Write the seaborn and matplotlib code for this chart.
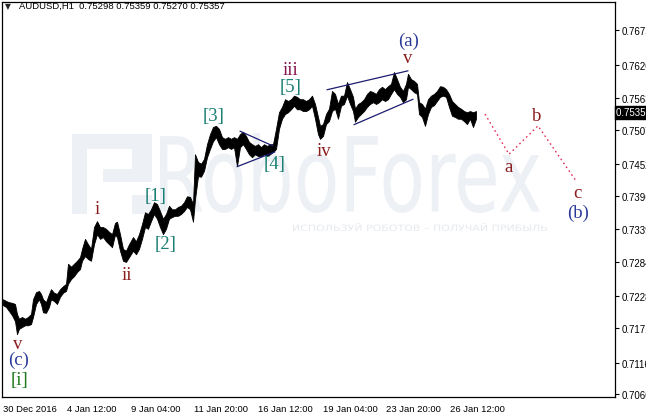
import matplotlib
matplotlib.use("Agg")
import matplotlib.pyplot as plt
import seaborn as sns
from matplotlib.textpath import TextPath
from matplotlib.patches import PathPatch, Rectangle
from matplotlib.font_manager import FontProperties
from matplotlib.transforms import Affine2D, blended_transform_factory

# AUDUSD H1, hourly bars counted from 30 Dec 2016; prices
bar_idx = [0, 3, 6, 9, 12, 14, 16, 19, 22, 25, 28, 30, 33, 36, 38, 40, 43, 46, 48, 51,
           54, 57, 60, 63, 65, 68, 71, 74, 77, 79, 82, 85, 88, 91, 94, 97, 100, 103, 106, 109,
           112, 114, 117, 120, 123, 126, 130, 133, 136, 139, 142, 145, 148, 151, 154, 157, 160, 163, 166, 169,
           172, 175, 178, 181, 184, 187, 190, 192, 195, 198, 201, 204, 207, 210, 213, 216, 219, 222, 225, 228,
           231, 234, 237, 240, 243, 246, 249, 252, 255, 258, 261, 264, 267, 270, 273, 276, 279, 282, 285, 288,
           291, 294, 297, 300, 303, 306, 309, 312, 315, 317, 320, 323, 326, 329, 332, 335, 338, 341, 344, 347,
           350, 352, 355, 358, 361, 364, 367, 370, 373, 376, 379, 382, 385, 388, 391, 394, 397, 400, 403, 405,
           408, 411, 414, 416, 419, 422, 425, 428, 431, 434, 437, 440, 443, 446, 449, 452, 455, 458, 461, 464,
           467, 470, 473]
bar_high = [0.7220, 0.7217, 0.7215, 0.7214, 0.7212, 0.7195, 0.7187, 0.7190, 0.7187, 0.7190,
            0.7195, 0.7220, 0.7232, 0.7234, 0.7229, 0.7220, 0.7215, 0.7229, 0.7237, 0.7231,
            0.7229, 0.7237, 0.7242, 0.7246, 0.7280, 0.7275, 0.7280, 0.7285, 0.7291, 0.7305,
            0.7322, 0.7313, 0.7305, 0.7342, 0.7352, 0.7342, 0.7342, 0.7339, 0.7334, 0.7330,
            0.7349, 0.7351, 0.7330, 0.7305, 0.7302, 0.7313, 0.7325, 0.7318, 0.7330, 0.7347,
            0.7367, 0.7364, 0.7372, 0.7384, 0.7381, 0.7369, 0.7356, 0.7364, 0.7378, 0.7372,
            0.7372, 0.7376, 0.7378, 0.7384, 0.7394, 0.7393, 0.7381, 0.7465, 0.7452, 0.7449,
            0.7457, 0.7482, 0.7499, 0.7511, 0.7513, 0.7508, 0.7494, 0.7491, 0.7494, 0.7491,
            0.7494, 0.7491, 0.7499, 0.7503, 0.7496, 0.7486, 0.7482, 0.7479, 0.7482, 0.7477,
            0.7482, 0.7479, 0.7482, 0.7482, 0.7508, 0.7536, 0.7545, 0.7558, 0.7555, 0.7558,
            0.7564, 0.7562, 0.7558, 0.7558, 0.7555, 0.7558, 0.7564, 0.7550, 0.7528, 0.7513,
            0.7516, 0.7533, 0.7542, 0.7572, 0.7567, 0.7550, 0.7564, 0.7564, 0.7587, 0.7575,
            0.7562, 0.7542, 0.7550, 0.7553, 0.7558, 0.7567, 0.7572, 0.7570, 0.7567, 0.7575,
            0.7579, 0.7575, 0.7580, 0.7584, 0.7604, 0.7592, 0.7579, 0.7572, 0.7584, 0.7601,
            0.7592, 0.7589, 0.7584, 0.7553, 0.7550, 0.7542, 0.7558, 0.7564, 0.7567, 0.7572,
            0.7580, 0.7579, 0.7575, 0.7567, 0.7555, 0.7550, 0.7545, 0.7542, 0.7538, 0.7536,
            0.7538, 0.7536, 0.7538]
bar_low = [0.7210, 0.7207, 0.7200, 0.7193, 0.7183, 0.7161, 0.7170, 0.7173, 0.7176, 0.7176,
           0.7178, 0.7190, 0.7212, 0.7220, 0.7212, 0.7198, 0.7197, 0.7207, 0.7220, 0.7217,
           0.7212, 0.7224, 0.7231, 0.7234, 0.7246, 0.7254, 0.7259, 0.7266, 0.7271, 0.7285,
           0.7293, 0.7288, 0.7285, 0.7313, 0.7330, 0.7322, 0.7325, 0.7318, 0.7313, 0.7308,
           0.7329, 0.7325, 0.7302, 0.7285, 0.7283, 0.7291, 0.7302, 0.7296, 0.7305, 0.7322,
           0.7342, 0.7339, 0.7352, 0.7364, 0.7356, 0.7342, 0.7330, 0.7339, 0.7356, 0.7359,
           0.7361, 0.7361, 0.7364, 0.7369, 0.7376, 0.7372, 0.7351, 0.7389, 0.7428, 0.7427,
           0.7437, 0.7460, 0.7474, 0.7487, 0.7494, 0.7482, 0.7474, 0.7474, 0.7477, 0.7474,
           0.7477, 0.7445, 0.7477, 0.7482, 0.7474, 0.7465, 0.7460, 0.7465, 0.7462, 0.7462,
           0.7465, 0.7462, 0.7465, 0.7469, 0.7474, 0.7508, 0.7525, 0.7533, 0.7536, 0.7541,
           0.7547, 0.7541, 0.7541, 0.7538, 0.7538, 0.7541, 0.7547, 0.7525, 0.7499, 0.7491,
           0.7496, 0.7516, 0.7521, 0.7538, 0.7542, 0.7525, 0.7547, 0.7550, 0.7564, 0.7550,
           0.7538, 0.7520, 0.7528, 0.7533, 0.7538, 0.7545, 0.7550, 0.7553, 0.7550, 0.7553,
           0.7558, 0.7555, 0.7558, 0.7567, 0.7575, 0.7567, 0.7562, 0.7553, 0.7558, 0.7579,
           0.7575, 0.7570, 0.7567, 0.7533, 0.7528, 0.7513, 0.7533, 0.7545, 0.7548, 0.7555,
           0.7562, 0.7564, 0.7562, 0.7545, 0.7530, 0.7528, 0.7525, 0.7525, 0.7521, 0.7516,
           0.7525, 0.7511, 0.7525]

# forecast a-b-c (pink dotted)
proj_bar = [482, 506, 535, 573]
proj_price = [0.7533, 0.7465, 0.7513, 0.7420]

# triangle [4] and wedge (a) boundaries
tri_upper = ([237, 270], [0.7504, 0.7479])
tri_lower = ([234, 272], [0.7444, 0.7469])
wedge_upper = ([324, 405], [0.7574, 0.7606])
wedge_lower = ([351, 410], [0.7515, 0.7558])

# wave labels: text, bar, price, colour
RED = "#8b1c1c"
BLUE = "#2b3a9a"
TEAL = "#1a7f74"
GREEN = "#1f7a1f"
wave_labels = [
    ("v", 15, 0.7146, RED), ("(c)", 16, 0.7119, BLUE), ("[i]", 16, 0.7085, GREEN),
    ("i", 94, 0.7373, RED), ("ii", 124, 0.7261, RED),
    ("[1]", 153, 0.7396, TEAL), ("[2]", 163, 0.7315, TEAL),
    ("[3]", 211, 0.7530, TEAL), ("[4]", 272, 0.7450, TEAL),
    ("iii", 287, 0.7609, "#85104a"), ("[5]", 288, 0.7580, TEAL),
    ("iv", 321, 0.7472, RED),
    ("(a)", 406, 0.7658, BLUE), ("v", 405, 0.7628, RED),
    ("a", 506, 0.7444, RED), ("b", 534, 0.7531, RED),
    ("c", 574, 0.7401, RED), ("(b)", 575, 0.7367, BLUE),
]

x_tick_bars = [0, 64, 128, 191, 255, 320, 383, 447]
x_tick_labels = ["30 Dec 2016", "4 Jan 12:00", "9 Jan 04:00", "11 Jan 20:00",
                 "16 Jan 12:00", "19 Jan 04:00", "23 Jan 20:00", "26 Jan 12:00"]
y_tick_pos = [0.76745, 0.76164, 0.75601, 0.75060, 0.74491, 0.73940,
              0.73387, 0.72824, 0.72260, 0.71709, 0.71122, 0.70598]
y_tick_labels = ["0.7675", "0.7620", "0.7563", "0.7507", "0.7452", "0.7396",
                 "0.7339", "0.7284", "0.7228", "0.7171", "0.7116", "0.7060"]
last_price = 0.75357

sns.set_style("white")
plt.rcParams["font.family"] = ["Liberation Sans", "DejaVu Sans"]

W, H = 646, 414
fig = plt.figure(figsize=(W / 100, H / 100), dpi=100)
ax = fig.add_axes([2 / W, 16 / H, 613 / W, 395 / H])
ax.set_xlim(-1, 612)
ax.set_ylim(0.70548, 0.77223)


def fig_box(x0, x1, ytop, ybot):
    # pixel box -> figure fraction (left, bottom, width, height)
    return x0 / W, 1 - ybot / H, (x1 - x0) / W, (ybot - ytop) / H


def stretched_text(s, x0, x1, ytop, ybot, color, family="DejaVu Sans", weight="normal"):
    tp = TextPath((0, 0), s, size=10, prop=FontProperties(family=family, weight=weight))
    ext = tp.get_extents()
    l, b, w, h = fig_box(x0, x1, ytop, ybot)
    tr = Affine2D().translate(-ext.x0, -ext.y0).scale(w / ext.width, h / ext.height).translate(l, b)
    ax.add_patch(PathPatch(tp, transform=tr + fig.transFigure, facecolor=color,
                           edgecolor="none", zorder=0))


# RoboForex watermark
WM = "#edf0f4"
for x0, x1, yt, yb in [(72, 87, 135, 215), (72, 152, 135, 150), (132, 152, 135, 183),
                       (103, 152, 170, 183), (132, 152, 196, 215)]:
    l, b, w, h = fig_box(x0, x1, yt, yb)
    ax.add_patch(Rectangle((l, b), w, h, transform=fig.transFigure, facecolor=WM,
                           edgecolor="none", zorder=0))
stretched_text("RoboForex", 160, 540, 134, 214, WM)
stretched_text("ИСПОЛЬЗУЙ РОБОТОВ – ПОЛУЧАЙ ПРИБЫЛЬ", 293, 547, 224, 232, "#e6e9ed")

# price band
ax.fill_between(bar_idx, bar_low, bar_high, color="black", linewidth=0.6, zorder=3)

# pattern lines and forecast
for xs, ys in [tri_upper, tri_lower, wedge_upper, wedge_lower]:
    sns.lineplot(x=xs, y=ys, ax=ax, color="#1c1c70", linewidth=0.9, zorder=4)
sns.lineplot(x=proj_bar, y=proj_price, ax=ax, color="#e0305a", linewidth=1.0,
             linestyle=(0, (1.2, 2.2)), sort=False, estimator=None, zorder=4)

for txt, bx, py, col in wave_labels:
    ax.text(bx, py, txt, ha="center", va="center", fontsize=13.5,
            family="Liberation Serif", color=col, zorder=5)

# axes like the terminal window
for sp in ax.spines.values():
    sp.set_color("black")
    sp.set_linewidth(0.9)
ax.yaxis.tick_right()
ax.set_yticks(y_tick_pos)
ax.set_yticklabels(y_tick_labels)
ax.set_xticks(x_tick_bars)
ax.set_xticklabels(x_tick_labels, ha="left")
ax.tick_params(axis="y", direction="out", length=3, width=0.8, pad=2, labelsize=7.0,
               colors="black")
ax.tick_params(axis="x", direction="out", length=4, width=0.8, pad=1, labelsize=6.8,
               colors="black")
ax.set_xlabel("")
ax.set_ylabel("")

# current price marker
ax.text(1.002, last_price, "0.7535 ", transform=blended_transform_factory(ax.transAxes, ax.transData),
        ha="left", va="center", fontsize=7.0, color="white",
        bbox=dict(boxstyle="square,pad=0.15", facecolor="black", edgecolor="black"),
        clip_on=False, zorder=6)

fig.text(5 / W, 1 - 6.5 / H, "▼", fontsize=5.5, family="DejaVu Sans", va="center", ha="left")
fig.text(19 / W, 1 - 6.5 / H, "AUDUSD,H1  0.75298 0.75359 0.75270 0.75357",
         fontsize=6.8, va="center", ha="left", color="black")

fig.savefig("out.png", dpi=100, facecolor="white")
